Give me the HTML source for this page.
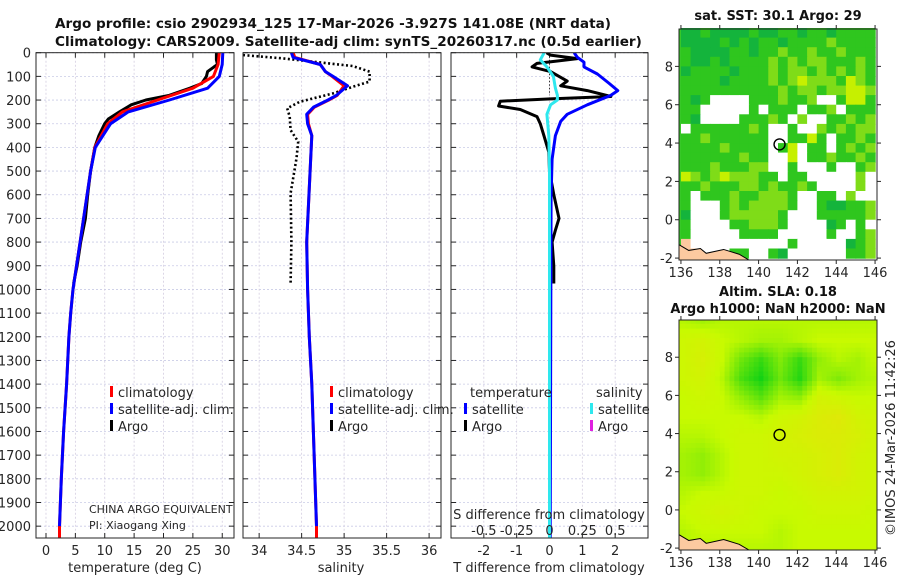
<!DOCTYPE html>
<html><head><meta charset="utf-8"><style>
html,body{margin:0;padding:0;background:#fff;}
svg{display:block;font-family:"DejaVu Sans","Liberation Sans",sans-serif;}
</style></head><body>
<svg id="fig" width="900" height="580" viewBox="0 0 900 580"></svg>
<script>
// ---------- DATA ----------
const depthTicks=[0,100,200,300,400,500,600,700,800,900,1000,1100,1200,1300,1400,1500,1600,1700,1800,1900,2000];
const tempTicks=[0,5,10,15,20,25,30];
const salTicks=[34,34.5,35,35.5,36];
const tdiffTicks=[-2,-1,0,1,2];
const sdiffTicks=[-0.5,-0.25,0,0.25,0.5];
const sdiffTickLabels=["-0.5","-0.25","0","0.25","0.5"];

const climDepth=[0,50,100,150,200,250,300,400,500,600,700,800,900,1000,1100,1200,1400,1600,1800,2000,2050];
const climTemp=[29.5,29.3,28.5,25,19,13,10.5,8.3,7.6,7.0,6.4,5.8,5.2,4.6,4.2,3.9,3.5,3.0,2.6,2.3,2.3];
const satTemp=[30.1,30,29.5,27.5,21,14,11,8.4,7.6,7.0,6.4,5.8,5.2,4.6,4.2,3.9,3.5,3.0,2.6,2.3,2.3];
const argoDepth=[0,30,50,60,80,100,130,150,180,200,220,250,280,300,350,400,500,600,700,800,900,975];
const argoTemp=[29,29,29.2,28.6,27.5,27.3,26.5,24.5,21,17,14.5,12.5,10.6,10,9,8.3,7.6,7.1,6.7,5.9,5.3,4.7];

const salDepth=[0,20,50,80,100,140,180,200,230,260,300,350,500,800,1000,1200,1400,2000,2050];
const climSal=[34.4,34.42,34.72,34.78,34.86,35.0,34.92,34.82,34.65,34.57,34.58,34.62,34.6,34.56,34.57,34.59,34.62,34.675,34.675];
const satSal=[34.38,34.4,34.72,34.78,34.87,35.04,34.91,34.81,34.64,34.56,34.57,34.62,34.6,34.56,34.57,34.59,34.62,34.675,34.675];
const argoSalDepth=[10,24,56,80,122,144,172,207,235,270,327,376,446,594,799,975];
const argoSal=[33.81,34.28,35.1,35.3,35.3,35.1,34.87,34.48,34.33,34.36,34.37,34.46,34.44,34.37,34.38,34.37];

const tdArgoDepth=[0,10,25,35,45,60,80,120,140,160,185,195,205,225,240,270,300,350,420,500,600,700,750,800,900,975];
const tdArgo=[-0.09,0.03,0.85,0.24,-0.38,-0.53,0.03,0.54,0.34,1.15,1.87,0.03,-1.5,-1.55,-0.89,-0.38,-0.28,-0.17,-0.02,0,0.13,0.29,0.18,0.08,0.13,0.13];
const tdSatDepth=[0,20,40,60,90,130,160,180,220,260,290,350,450,600,2050];
const tdSat=[0.75,0.85,1.05,1.05,1.46,1.82,2.08,1.87,1.15,0.54,0.34,0.18,0.08,0.05,0.02];
const sdSatDepth=[0,30,60,100,150,180,200,220,260,350,500,2050];
const sdSat=[-0.04,-0.07,-0.02,0.03,0.045,0.06,0.06,0.008,-0.02,-0.005,0,0];

const lonTicks=[136,138,140,142,144,146];
const latTicks=[-2,0,2,4,6,8];
const sstGrid=[
"GGgGGGGgGGggGggGgggg","GGGGgGgGggGgggglgggg","gGGGGggGgglgglgglggg","gGGgGgggglglgllggglg",
"GggggGggglgllglglglg","ggggGgggglglylllgylg","gggggggggglgllgllyyl","gGgwwwwggglgglwwgyyg",
"ggwwwwwgwgggwgglwggg","gGwwwwggglgwlwwgglgl","wgggggglgwwgwwlglgll","gglggggggwwggygwgglg",
"gggglggggwgywggwglgl","gggggglggwwywgglgglg","ggglgggllwwgwwwgwwgl","ylglylllggwggwwwwwlw",
"gglgggllglgglgwwwwlw","gwggglgglllgwwggwlww","gwwwglgllllgwwgGGggl","Gwwwglllllgwwwgggggl",
"gwwwwgglllgwwwwGgwgw","gwwwwwggggwwwwwgwwgl","owwwwwwwwwwgwwwwwGgl","oowwwggwwgGwwwwwwggl"];
const slaGrid=[
[.45,.4,.45,.45,.45,.45,.45,.45,.45,.45,.45],
[.55,.6,.5,.45,.4,.4,.45,.5,.5,.5,.5],
[.55,.65,.5,.25,.1,.3,.1,.35,.45,.4,.5],
[.55,.6,.45,.15,0,.25,.05,.4,.3,.4,.45],
[.5,.55,.5,.35,.2,.4,.35,.6,.55,.5,.5],
[.5,.5,.5,.5,.45,.55,.6,.7,.75,.6,.55],
[.45,.45,.5,.55,.55,.6,.65,.7,.7,.65,.55],
[.4,.35,.45,.55,.55,.6,.6,.65,.7,.6,.55],
[.4,.35,.45,.55,.55,.55,.6,.65,.7,.6,.55],
[.45,.5,.5,.55,.55,.5,.55,.6,.6,.6,.55],
[.5,.55,.6,.55,.5,.5,.5,.55,.55,.55,.5],
[.45,.5,.5,.5,.5,.45,.5,.5,.5,.5,.5],
[.45,.45,.45,.45,.45,.45,.5,.5,.5,.5,.5]];
const floatLon=141.08, floatLat=3.93;

// ---------- HELPERS ----------
const NS="http://www.w3.org/2000/svg";
const svg=document.getElementById('fig');
function mk(tag,attrs,parent){const e=document.createElementNS(NS,tag);for(const k in attrs)e.setAttribute(k,attrs[k]);(parent||svg).appendChild(e);return e;}
function txt(s,x,y,attrs,parent){const e=mk('text',Object.assign({x:x,y:y,'font-size':13,fill:'#262626'},attrs||{}),parent);e.textContent=s;return e;}
const Y0=52.7, Y1=538, D1=2050;
const yD=d=>Y0+(d/D1)*(Y1-Y0);
function lin(d0,d1,p0,p1){return v=>p0+(v-d0)/(d1-d0)*(p1-p0);}
const xT=lin(-1.7,32,36,234);
const xS=lin(33.81,36.14,243,441);
const xTD=lin(-3,3,451,648);
const xSD=lin(-0.75,0.75,451,648);

function panel(name,x0,x1,xticks,xf,labels){
  const g=mk('g',{}),gg=g;
  
  
  depthTicks.forEach(d=>{mk('line',{x1:x0,x2:x1,y1:yD(d),y2:yD(d),stroke:'#c9cbe6','stroke-width':0.8,'stroke-dasharray':'2,2'},gg);
    mk('line',{x1:x0,x2:x0+5,y1:yD(d),y2:yD(d),stroke:'#262626'},gg);mk('line',{x1:x1-5,x2:x1,y1:yD(d),y2:yD(d),stroke:'#262626'},gg);});
  xticks.forEach((t,i)=>{const x=xf(t);mk('line',{x1:x,x2:x,y1:Y0,y2:Y1,stroke:'#d4cde0','stroke-width':0.8,'stroke-dasharray':'2,2'},gg);
    mk('line',{x1:x,x2:x,y1:Y1-5,y2:Y1,stroke:'#262626'},gg);mk('line',{x1:x,x2:x,y1:Y0,y2:Y0+5,stroke:'#262626'},gg);
    const l=txt(labels?labels[i]:String(t),x,555,{'text-anchor':'middle'},gg);
    });
  return g;
}
function border(x0,x1,g){mk('rect',{x:x0,y:Y0,width:x1-x0,height:Y1-Y0,fill:'none',stroke:'#262626','stroke-width':1},g);}
function line(g,name,xs,ds,xf,color,w,dash){
  const pts=xs.map((v,i)=>xf(v).toFixed(1)+','+yD(ds[i]).toFixed(1)).join(' ');
  const p=mk('polyline',{points:pts,fill:'none',stroke:color,'stroke-width':w,'stroke-linejoin':'round','stroke-dasharray':dash||'none'},g);
  
  
  return p;
}

// titles
const t1=txt('Argo profile: csio 2902934_125 17-Mar-2026 -3.927S 141.08E (NRT data)',55,28,{'font-weight':'bold','font-size':13.6,fill:'#111'});

const t2=txt('Climatology: CARS2009. Satellite-adj clim: synTS_20260317.nc (0.5d earlier)',55,46,{'font-weight':'bold','font-size':13.6,fill:'#111'});


// depth labels
depthTicks.forEach(d=>{const l=txt(String(d),31,yD(d)+5,{'text-anchor':'end'});
  });

// Panel 1: temperature
const p1=panel('temperature-panel',36,234,tempTicks,xT);
const clip1=mk('clipPath',{id:'c1'});mk('rect',{x:36,y:Y0,width:198,height:Y1-Y0},clip1);
const g1=mk('g',{'clip-path':'url(#c1)'},p1);
line(g1,'argo-temp-line',argoTemp,argoDepth,xT,'#000',3);
line(g1,'clim-temp-line',climTemp,climDepth,xT,'#f00',3);
line(g1,'sat-temp-line',satTemp,climDepth,xT,'#00f',3);
mk('line',{x1:xT(2.3),x2:xT(2.3),y1:yD(2000),y2:Y1,stroke:'#f00','stroke-width':3},g1);
border(36,234,p1);
txt('temperature (deg C)',135,572,{'text-anchor':'middle'},p1);
function legend(g,x,y,items){items.forEach((it,i)=>{const r=mk('rect',{x:x,y:y+i*17-11,width:3,height:11,fill:it[1]},g);
  const l=txt(it[0],x+8,y+i*17,{},g);});}
legend(p1,110,397,[['climatology','#f00'],['satellite-adj. clim.','#00f'],['Argo','#000']]);
txt('CHINA ARGO EQUIVALENT',89,513,{'font-size':11},p1);
txt('PI: Xiaogang Xing',89,529,{'font-size':11},p1);

// Panel 2: salinity
const p2=panel('salinity-panel',243,441,salTicks,xS);
const clip2=mk('clipPath',{id:'c2'});mk('rect',{x:243,y:Y0,width:198,height:Y1-Y0},clip2);
const g2=mk('g',{'clip-path':'url(#c2)'},p2);
line(g2,'argo-sal-line',argoSal,argoSalDepth,xS,'#000',2.6,'2,2.5');
line(g2,'clim-sal-line',climSal,salDepth,xS,'#f00',3);
line(g2,'sat-sal-line',satSal,salDepth,xS,'#00f',3);
mk('line',{x1:xS(34.675),x2:xS(34.675),y1:yD(2000),y2:Y1,stroke:'#f00','stroke-width':3},g2);
border(243,441,p2);
txt('salinity',341,572,{'text-anchor':'middle'},p2);
legend(p2,330,397,[['climatology','#f00'],['satellite-adj. clim.','#00f'],['Argo','#000']]);

// Panel 3: differences
const p3=panel('difference-panel',451,648,tdiffTicks,xTD);
const clip3=mk('clipPath',{id:'c3'});mk('rect',{x:451,y:Y0,width:197,height:Y1-Y0},clip3);
const g3=mk('g',{'clip-path':'url(#c3)'},p3);
mk('line',{x1:xTD(0),x2:xTD(0),y1:Y0,y2:yD(180),stroke:'#333','stroke-width':1,'stroke-dasharray':'1.5,2'},g3);
line(g3,'argo-tdiff-line',tdArgo,tdArgoDepth,xTD,'#000',3);
line(g3,'sat-tdiff-line',tdSat,tdSatDepth,xTD,'#00f',3);
line(g3,'sat-sdiff-line',sdSat,sdSatDepth,xSD,'#2ee8ee',3);
border(451,648,p3);
txt('T difference from climatology',549,572,{'text-anchor':'middle'},p3);
txt('S difference from climatology',549,519,{'text-anchor':'middle'},p3);
sdiffTicks.forEach((t,i)=>{const l=txt(sdiffTickLabels[i],xSD(t),535,{'text-anchor':'middle'},p3);
  });
txt('temperature',470,397,{},p3);
txt('salinity',596,397,{},p3);
legend(p3,464,414,[['satellite','#00f'],['Argo','#000']]);
legend(p3,590,414,[['satellite','#2ee8ee'],['Argo','#e020e0']]);

// ---------- MAPS ----------
function mapFrame(name,y0,y1,drawFill){
  const x0=679,x1=877;
  const lonF=lin(135.9,146.1,x0,x1), latF=lin(9.95,-2.1,y0,y1);
  const g=mk('g',{});
  
  
  drawFill(g,lonF,latF);
  // land lower-left
  mk('path',{d:`M${x0},${latF(-1.3)} L${lonF(136.4)},${latF(-1.6)} L${lonF(137)},${latF(-1.5)} L${lonF(137.3)},${latF(-1.75)} L${lonF(138.2)},${latF(-1.55)} L${lonF(139)},${latF(-1.8)} L${lonF(139.5)},${latF(-2.1)} L${x0},${y1} Z`,fill:'#fcc9a0',stroke:'#000','stroke-width':1},g);
  mk('rect',{x:x0,y:y0,width:x1-x0,height:y1-y0,fill:'none',stroke:'#262626'},g);
  lonTicks.forEach(t=>{const x=lonF(t);mk('line',{x1:x,x2:x,y1:y1,y2:y1+4,stroke:'#262626'},g);mk('line',{x1:x,x2:x,y1:y0-4,y2:y0,stroke:'#262626'},g);
    const l=txt(String(t),x,y1+17,{'text-anchor':'middle'},g);});
  latTicks.forEach(t=>{const y=latF(t);mk('line',{x1:x0-4,x2:x0,y1:y,y2:y,stroke:'#262626'},g);mk('line',{x1:x1,x2:x1+4,y1:y,y2:y,stroke:'#262626'},g);
    const l=txt(String(t),673,y+5,{'text-anchor':'end'},g);});
  const c=mk('circle',{cx:lonF(floatLon),cy:latF(floatLat),r:5.5,fill:'none',stroke:'#000','stroke-width':1.4},g);
  
  
  return g;
}
const sstCol={G:'#14b43c',g:'#2fc61e',l:'#7fdc18',y:'#c6f000',w:'#ffffff',o:'#fcc9a0'};
mapFrame('sst-map',29,260,(g,lonF,latF)=>{
  sstGrid.forEach((row,r)=>{[...row].forEach((ch,c)=>{
    const x=lonF(136+c*0.5), y=latF(10-r*0.5);
    const cell=mk('rect',{x:x.toFixed(1),y:y.toFixed(1),width:(lonF(136.5)-lonF(136)+0.6).toFixed(1),height:(latF(9.5)-latF(10)+0.6).toFixed(1),fill:sstCol[ch]},g);
    
    
  });});
  mk('rect',{x:lonF(135.9),y:latF(9.95),width:lonF(136)-lonF(135.9),height:latF(-2.1)-latF(9.95),fill:'#2fc61e'},g);
});
function slaColor(v){
  const stops=[[0,[20,210,20]],[0.5,[200,250,0]],[1,[245,215,15]]];
  let a=stops[0],b=stops[1];if(v>0.5){a=stops[1];b=stops[2];}
  const t=Math.max(0,Math.min(1,(v-a[0])/(b[0]-a[0])));
  return 'rgb('+a[1].map((c,i)=>Math.round(c+(b[1][i]-c)*t)).join(',')+')';
}
mapFrame('sla-map',320,550,(g,lonF,latF)=>{
  const step=0.25;
  for(let lat=10;lat>-2.1;lat-=step){for(let lon=135.75;lon<146.1;lon+=step){
    const fx=Math.max(0,Math.min(10,lon-136)), fy=Math.max(0,Math.min(12,10-lat));
    const i=Math.min(9,Math.floor(fx)), j=Math.min(11,Math.floor(fy)), u=fx-i, w=fy-j;
    const v=slaGrid[j][i]*(1-u)*(1-w)+slaGrid[j][i+1]*u*(1-w)+slaGrid[j+1][i]*(1-u)*w+slaGrid[j+1][i+1]*u*w;
    const x0=Math.max(679,lonF(lon)), x1=Math.min(877,lonF(lon+step)), y0=Math.max(320,latF(lat)), y1=Math.min(550,latF(lat-step));
    if(x1<=x0||y1<=y0)continue;
    const cell=mk('rect',{x:x0.toFixed(1),y:y0.toFixed(1),width:(x1-x0+0.5).toFixed(1),height:(y1-y0+0.5).toFixed(1),fill:slaColor(v)},g);
    
    
  }}
});
txt('sat. SST: 30.1 Argo: 29',778,20,{'text-anchor':'middle','font-weight':'bold',fill:'#111'});
txt('Altim. SLA: 0.18',778,296,{'text-anchor':'middle','font-weight':'bold',fill:'#111'});
txt('Argo h1000: NaN h2000: NaN',778,313,{'text-anchor':'middle','font-weight':'bold',fill:'#111'});
const cr=txt('©IMOS 24-Mar-2026 11:42:26',0,0,{'text-anchor':'middle',transform:'translate(895,438) rotate(-90)'});

</script>
</body></html>
